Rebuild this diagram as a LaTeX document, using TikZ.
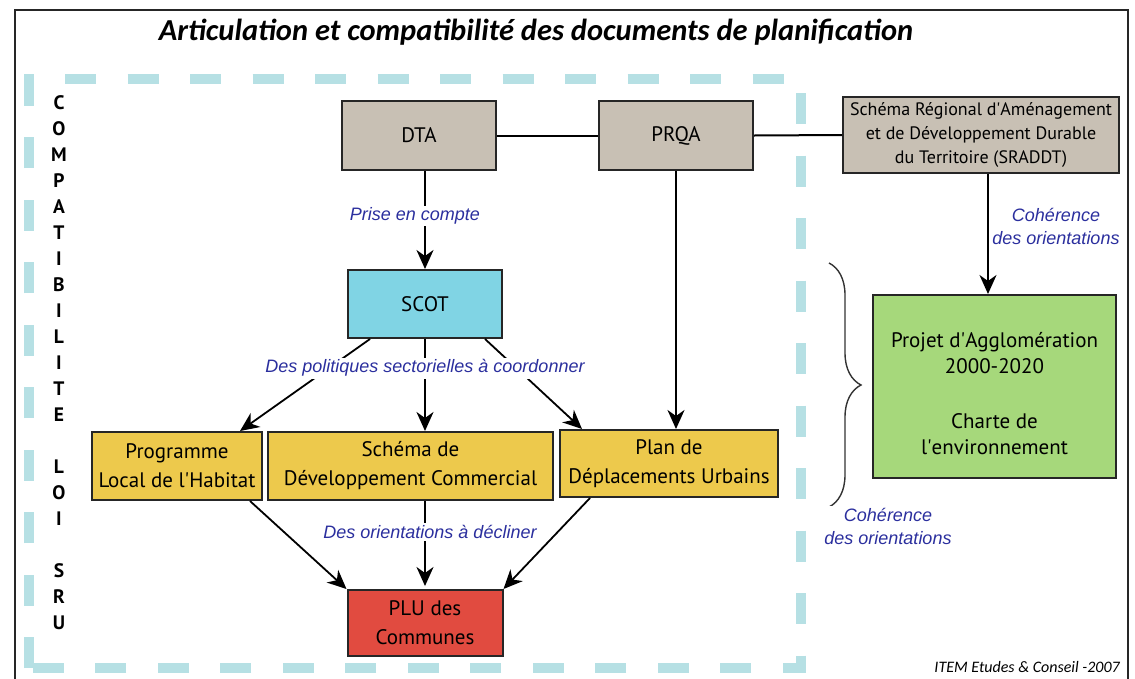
\documentclass[tikz,border=0pt]{standalone}
\usepackage{fontspec}
\setmainfont{PT Sans}
\newfontfamily\lblfont{Liberation Sans}
\newfontfamily\condfont{Carlito}
\usetikzlibrary{arrows.meta,decorations.pathreplacing,calc}
\definecolor{boxgray}{HTML}{C8C0B4}
\definecolor{scotblue}{HTML}{80D4E4}
\definecolor{yel}{HTML}{EDC94C}
\definecolor{plured}{HTML}{E14B40}
\definecolor{grn}{HTML}{A6D87B}
\definecolor{dashblue}{HTML}{B6E0E4}
\definecolor{lblblue}{HTML}{2B2F9E}
\newcommand{\ap}{\textquotesingle}
\tikzset{
  box/.style={draw=black!85, line width=2pt, inner sep=0pt, align=center,
    font=\fontsize{21}{29}\selectfont},
  arr/.style={line width=1.8pt, -{Stealth[length=19pt,width=17pt,inset=6pt]}},
  conn/.style={line width=2pt},
  lbl/.style={fill=white, inner sep=2pt, text=lblblue, align=center,
    font=\lblfont\itshape\fontsize{18}{23}\selectfont},
}
\begin{document}
\begin{tikzpicture}[x=1pt,y=-1pt]
\useasboundingbox (0,0) rectangle (1135,678);
\fill[white] (0,0) rectangle (1135,678);
% outer frame
\draw[line width=2pt, black!85] (15,700) -- (15,10) -- (1128,10) -- (1128,700);
% title
\node[font=\condfont\bfseries\itshape\fontsize{30.5}{34}\selectfont] (title) at (536,32) {Articulation et compatibilité des documents de planification};
% dashed zone
\draw[dashblue, line width=10pt, dash pattern=on 31pt off 31.5pt] (29,668) rectangle (801,79);
% vertical text
\node[align=center, inner sep=0pt, font=\bfseries\fontsize{19.5}{26}\selectfont] (vert) at (59,363)
  {C\\O\\M\\P\\A\\T\\I\\B\\I\\L\\I\\T\\E\\[26pt]L\\O\\I\\[26pt]S\\R\\U};
% boxes
\node[box, fill=boxgray, minimum width=154pt, minimum height=69pt] (dta) at (419,135.5) {DTA};
\node[box, fill=boxgray, minimum width=154pt, minimum height=69pt] (prqa) at (676,135.5) {PRQA};
\node[box, fill=boxgray, minimum width=276pt, minimum height=76pt, font=\fontsize{18}{24}\selectfont] (sraddt) at (981,135)
  {Schéma Régional d\ap Aménagement\\et de Développement Durable\\du Territoire (SRADDT)};
\node[box, fill=scotblue, minimum width=154pt, minimum height=68pt] (scot) at (425,304) {SCOT};
\node[box, fill=yel, minimum width=170pt, minimum height=68pt] (plh) at (177,466) {Programme\\Local de l\ap Habitat};
\node[box, fill=yel, minimum width=285pt, minimum height=68pt] (sdc) at (410.5,466) {Schéma de\\Développement Commercial};
\node[box, fill=yel, minimum width=218pt, minimum height=67pt] (pdu) at (669,463.5) {Plan de\\Déplacements Urbains};
\node[box, fill=plured, minimum width=155pt, minimum height=66pt] (plu) at (425,623) {PLU des\\Communes};
\node[box, fill=grn, minimum width=243pt, minimum height=183pt] (agglo) at (994.5,386.5) {};
\node[align=center, font=\fontsize{21}{26}\selectfont] (aggtxt) at (994.5,394)
  {Projet d\ap Agglomération\\2000-2020\\[29pt]Charte de\\l\ap environnement};
% connectors
\draw[conn] (dta.east) -- (prqa.west);
\draw[conn] (prqa.east) -- (sraddt.west);
\draw[arr] (scot.north |- dta.south) -- (scot.north);
\draw[arr] (prqa.south) -- (prqa.south |- pdu.north);
\draw[arr] ([xshift=7pt]sraddt.south) -- ([xshift=7pt]sraddt.south |- agglo.north);
\draw[arr] ([xshift=-55pt]scot.south) -- ([xshift=63pt]plh.north);
\draw[arr] (scot.south) -- (scot.south |- sdc.north);
\draw[arr] ([xshift=60pt]scot.south) -- ([xshift=-87pt]pdu.north);
\draw[arr] ([xshift=73pt]plh.south) -- (plu.north west);
\draw[arr] (plu.north |- sdc.south) -- ([yshift=3pt]plu.north);
\draw[arr] ([xshift=-79pt]pdu.south) -- (plu.north east);
% brace
\draw[black!80, line width=1.4pt, decorate, decoration={brace, amplitude=32pt}] (829,263) -- (829,507);
% labels
\node[lbl] (l1) at (415,216) {Prise en compte};
\node[lbl] (l2) at (425,368) {Des politiques sectorielles à coordonner};
\node[lbl] (l3) at (430,532) {Des orientations à décliner};
\node[lbl] (l4) at (1056,226) {Cohérence\\des orientations};
\node[lbl] (l5) at (888,526) {Cohérence\\des orientations};
\node[anchor=east, font=\condfont\itshape\fontsize{16}{18}\selectfont, inner sep=0pt] (credit) at (1120,667) {ITEM Etudes \& Conseil -2007};
\end{tikzpicture}
\end{document}
